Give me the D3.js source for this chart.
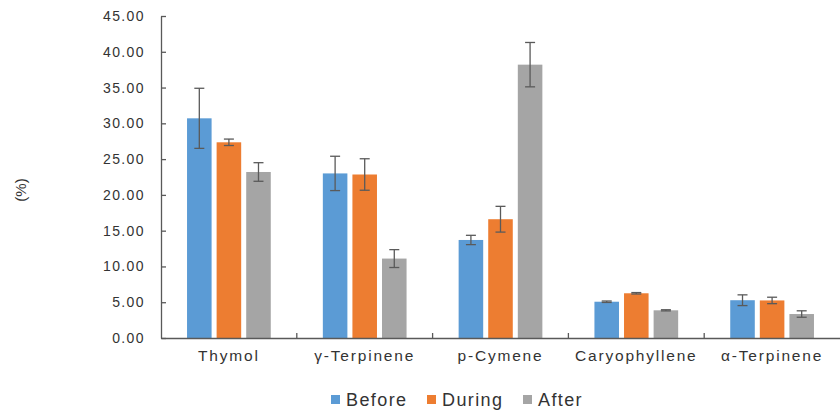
<!DOCTYPE html>
<html><head><meta charset="utf-8">
<script src="https://cdn.jsdelivr.net/npm/d3@7"></script>
<style>body{margin:0;background:#fff}svg{display:block}text{font-family:"Liberation Sans",Arial,sans-serif;fill:#333}</style>
</head><body><svg id="c" width="840" height="412"></svg>
<script>
const categories = ["Thymol","γ-Terpinene","p-Cymene","Caryophyllene","α-Terpinene"];
const series = ["Before","During","After"];
const colors = ["#5B9BD5","#ED7D31","#A5A5A5"];
const before = [30.7, 23.0, 13.7, 5.07, 5.28];
const during = [27.35, 22.85, 16.6, 6.25, 5.25];
const after = [23.2, 11.1, 38.2, 3.87, 3.35];
const beforeErr = [4.2, 2.4, 0.65, 0.1, 0.75];
const duringErr = [0.45, 2.2, 1.8, 0.1, 0.45];
const afterErr = [1.3, 1.25, 3.1, 0.08, 0.45];
const yTicks = [0,5,10,15,20,25,30,35,40,45];

const values = [before, during, after];
const errs = [beforeErr, duringErr, afterErr];
const svg = d3.select("#c");
const L = 161, R = 840, T = 16, B = 338;
const x0 = d3.scaleBand().domain(categories).range([L, R]).padding(0);
const x1 = d3.scaleBand().domain(series).range([0, x0.bandwidth()]).paddingInner(0.17).paddingOuter(0.88);
const y = d3.scaleLinear().domain([0,45]).range([B, T]);

// bars
series.forEach((s, si) => {
  svg.append("g").selectAll("rect").data(categories).join("rect")
    .attr("x", c => x0(c) + x1(s))
    .attr("y", (c,i) => y(values[si][i]))
    .attr("width", x1.bandwidth())
    .attr("height", (c,i) => y(0) - y(values[si][i]))
    .attr("fill", colors[si]);
});
// error bars
series.forEach((s, si) => {
  const g = svg.append("g").attr("stroke", "#5a5a5a").attr("stroke-width", 1.3);
  categories.forEach((c, i) => {
    const cx = x0(c) + x1(s) + x1.bandwidth()/2;
    const v = values[si][i], e = errs[si][i];
    g.append("line").attr("x1", cx).attr("x2", cx).attr("y1", y(v+e)).attr("y2", y(v-e));
    g.append("line").attr("x1", cx-5).attr("x2", cx+5).attr("y1", y(v+e)).attr("y2", y(v+e));
    g.append("line").attr("x1", cx-5).attr("x2", cx+5).attr("y1", y(v-e)).attr("y2", y(v-e));
  });
});

// y axis
const yAxis = svg.append("g").attr("transform", `translate(${L},0)`)
  .call(d3.axisLeft(y).tickValues(yTicks).tickFormat(d3.format(".2f")).tickSizeInner(-5).tickSizeOuter(0).tickPadding(16));
yAxis.select(".domain").attr("stroke", "#595959").attr("stroke-width", 1.3);
yAxis.selectAll(".tick line").attr("stroke", "#595959").attr("stroke-width", 1.3);
yAxis.selectAll(".tick text").attr("font-size", 14).attr("letter-spacing", "1.4px")
  .attr("fill", "#333").style("font-family", '"Liberation Sans",Arial,sans-serif');

// x axis
const xAxis = svg.append("g").attr("transform", `translate(0,${B})`)
  .call(d3.axisBottom(x0).tickSize(0).tickPadding(12));
xAxis.select(".domain").attr("stroke", "#595959").attr("stroke-width", 1.3);
xAxis.selectAll(".tick text").attr("font-size", 15.5).attr("letter-spacing", "1.8px")
  .attr("fill", "#333").style("font-family", '"Liberation Sans",Arial,sans-serif');
// category separator ticks
svg.append("g").selectAll("line").data(categories.slice(1)).join("line")
  .attr("x1", c => x0(c)).attr("x2", c => x0(c)).attr("y1", B).attr("y2", B-5)
  .attr("stroke", "#595959").attr("stroke-width", 1.3);

// y label
svg.append("text").attr("transform", "translate(26,190) rotate(-90)")
  .attr("text-anchor", "middle").attr("font-size", 15).text("(%)");

// legend
const legX = [331, 427, 523];
series.forEach((s, si) => {
  svg.append("rect").attr("x", legX[si]).attr("y", 395).attr("width", 9).attr("height", 9).attr("fill", colors[si]);
  svg.append("text").attr("x", legX[si] + 15).attr("y", 406).attr("font-size", 18).attr("letter-spacing", "1.4px").text(s);
});
</script></body></html>
